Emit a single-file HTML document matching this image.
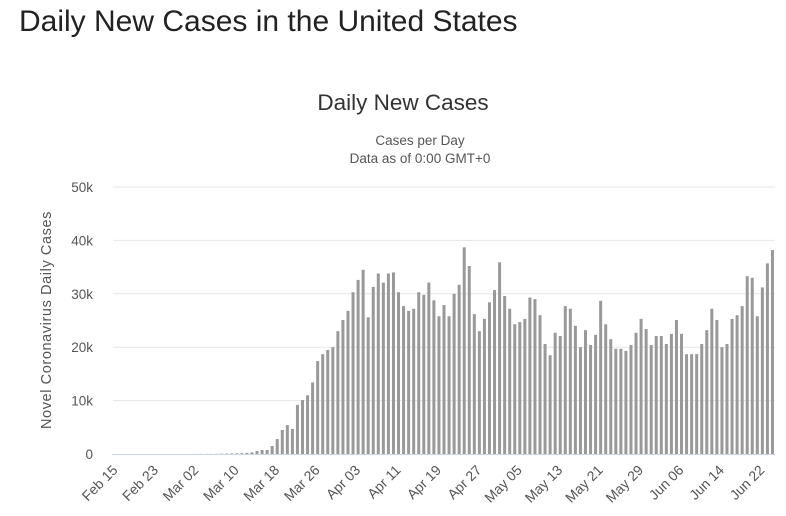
<!DOCTYPE html>
<html><head><meta charset="utf-8"><style>
body{margin:0;background:#fff;width:786px;height:516px;overflow:hidden;font-family:"Liberation Sans",sans-serif}
h1{position:absolute;left:19px;top:5px;margin:0;font-weight:normal;font-size:30px;color:#222}
</style></head><body>
<h1>Daily New Cases in the United States</h1>
<svg id="c" width="786" height="516" style="position:absolute;left:0;top:0"></svg>
<script>
const categories=["Feb 15","Feb 23","Mar 02","Mar 10","Mar 18","Mar 26","Apr 03","Apr 11","Apr 19","Apr 27","May 05","May 13","May 21","May 29","Jun 06","Jun 14","Jun 22"];
const yTicks=[0,10000,20000,30000,40000,50000];
const yTickLabels=["0","10k","20k","30k","40k","50k"];
const earlyValues=[0,0,0,0,0,0,0,0,0,0,0,0,0,0,0,5,10,20,25,20,40,60,70,100,120,150,200];
const laterValues=[300,560,750,750,1500,2800,4500,5400,4700,9200,10100,11000,13400,17400,18700,19500,20000,23000,25100,26800,30300,32600,34500,25600,31300,33800,32100,33800,34000,30300,27700,26800,27200,30300,29800,32100,28800,25800,27900,25800,30000,31700,38700,35200,26200,23000,25300,28400,30700,35900,29600,27200,24300,24700,25300,29300,29000,26000,20600,18500,22700,22100,27700,27200,24000,20000,23200,20400,22300,28700,24300,21500,19700,19700,19300,20400,22700,25300,23400,20400,22100,22100,20600,22500,25100,22500,18700,18700,18700,20600,23200,27200,25100,20000,20600,25300,26000,27700,33300,33000,25800,31200,35700,38200];
const values=earlyValues.concat(laterValues);
const NS="http://www.w3.org/2000/svg",svg=document.getElementById("c");
const x0=113,x1=775,y0=454,yTop=187,n=values.length,step=(x1-x0)/n;
const xs=i=>x0+step*(i+0.5);
const ys=v=>y0-(v/50000)*(y0-yTop);
function mk(t,a,txt){const e=document.createElementNS(NS,t);for(const k in a)e.setAttribute(k,a[k]);if(txt!==undefined)e.textContent=txt;svg.appendChild(e);return e;}
let e;
e=mk("text",{x:403,y:110,"text-anchor":"middle","font-size":22.5,fill:"#333"},"Daily New Cases");


e=mk("text",{x:420,y:145,"text-anchor":"middle","font-size":13.5,fill:"#555"},"Cases per Day");


e=mk("text",{x:420,y:163,"text-anchor":"middle","font-size":13.5,fill:"#555"},"Data as of 0:00 GMT+0");


yTicks.forEach((t,i)=>{
 if(i>0){e=mk("line",{x1:x0,x2:x1,y1:ys(t),y2:ys(t),stroke:"#e6e6e6","stroke-width":1});
 
 }
 e=mk("text",{x:93,y:ys(t)+5,"text-anchor":"end","font-size":13.5,fill:"#555"},yTickLabels[i]);
 
 
});
e=mk("text",{transform:"translate(51,320) rotate(-90)","text-anchor":"middle","font-size":14.5,"letter-spacing":"0.6",fill:"#555"},"Novel Coronavirus Daily Cases");


values.forEach((v,i)=>{
 const y=ys(v);
 e=mk("rect",{x:xs(i)-1.5,y:y,width:3,height:Math.max(0,y0-y),fill:"#999"});
 
 
});
e=mk("line",{x1:x0-1,x2:x1,y1:y0+0.5,y2:y0+0.5,stroke:"#ccd6eb","stroke-width":1});


categories.forEach((c,k)=>{
 const x=xs(k*8);
 e=mk("text",{transform:`translate(${x+3},${y0+17}) rotate(-45)`,"text-anchor":"end","font-size":14,fill:"#555"},c);
 
 
});
</script>
</body></html>
